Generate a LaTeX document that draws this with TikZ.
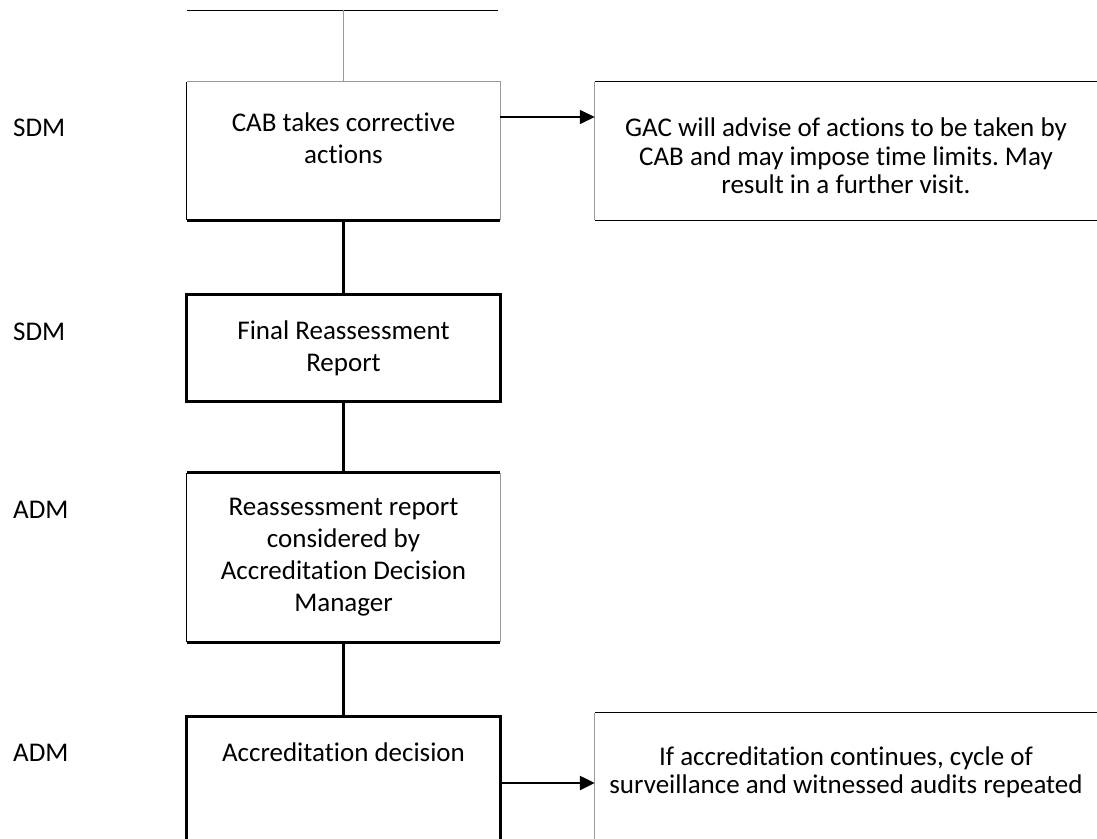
\documentclass[tikz,border=0pt]{standalone}
\usepackage{fontspec}
\setmainfont{Carlito}[Ligatures=NoCommon]
\usetikzlibrary{positioning,arrows.meta}
\frenchspacing

\begin{document}
\begin{tikzpicture}[x=1pt,y=-1pt,every node/.style={inner sep=0pt,font=\fontsize{27}{32}\selectfont}]
\tikzstyle{stage}=[minimum width=313pt,align=center]
\tikzstyle{note}=[minimum width=502pt,align=center]
\tikzstyle{heavy}=[line width=3.2pt]
\tikzstyle{plain}=[line width=1pt]
\tikzstyle{faint}=[line width=1.1pt,gray!80]
\tikzstyle{flow}=[-{Triangle[length=15pt,width=14pt]}]

\useasboundingbox (0,0) rectangle (1097,838);

% stage boxes
\node[stage,minimum height=138pt] (cab) at (343.5,151) {};
\node[stage,minimum height=106pt] (final) at (343.5,348) {Final Reassessment\\Report};
\node[stage,minimum height=169pt] (considered) at (343.5,557.5) {Reassessment report\\considered by\\Accreditation Decision\\Manager};
\node[stage,minimum height=183pt] (decision) at (343.5,808.5) {};
\node[below=31pt of cab.north,align=center] (cabtext) {CAB takes corrective\\actions};
\node[below=26pt of decision.north] (decisiontext) {Accreditation decision};

% side notes
\node[note,minimum height=138pt] (advice) at (846,151) {};
\node[below=36pt of advice.north,align=center,font=\fontsize{27}{28.5}\selectfont] (advicetext) {GAC will advise of actions to be taken by\\CAB and may impose time limits. May\\result in a further visit.};
\node[note,minimum height=200pt] (repeat) at (846,813) {};
\node[below=34pt of repeat.north,align=center,font=\fontsize{27}{28}\selectfont] (repeattext) {If accreditation continues, cycle of\\surveillance and witnessed audits repeated};

% roles
\node[anchor=west] (sdma) at (13,128) {SDM};
\node[anchor=west] (sdmb) at (13,332) {SDM};
\node[anchor=west] (adma) at (13,510) {ADM};
\node[anchor=west] (admb) at (13,753) {ADM};

% feed from above
\coordinate (topl) at (187,10);
\coordinate (topr) at (498,10);
\draw[plain] (topl) -- (topr);
\draw[faint] (cab.north |- topl) -- (cab.north);

% outlines
\draw[faint] (cab.south east) -- (cab.north east) -- (cab.north west);
\draw[plain] (cab.north west) -- (cab.south west);
\draw[heavy] (cab.south west) -- (cab.south east);
\draw[heavy] (final.south west) rectangle (final.north east);
\draw[heavy] (considered.north west) -- (considered.north east);
\draw[plain] (considered.north west) -- (considered.south west);
\draw[faint] (considered.north east) -- (considered.south east);
\draw[heavy] (considered.south west) -- (considered.south east);
\draw[heavy] (decision.south west) -- (decision.north west) -- (decision.north east) -- (decision.south east);
\draw[plain] (advice.north east) -- (advice.north west);
\draw[faint] (advice.north west) -- (advice.south west);
\draw[plain] (advice.south west) -- (advice.south east);
\draw[plain] (repeat.north east) -- (repeat.north west);
\draw[faint] (repeat.north west) -- (repeat.south west);

% connectors
\draw[heavy] (cab) -- (final);
\draw[heavy] (final) -- (considered);
\draw[heavy] (considered) -- (decision);
\draw[flow,line width=1.5pt] ([yshift=34pt]cab.east) -- ([yshift=34pt]advice.west);
\coordinate (out) at ([yshift=25.5pt]decision.east);
\draw[flow,line width=2.4pt] (out) -- (out -| repeat.west);
\end{tikzpicture}
\end{document}
